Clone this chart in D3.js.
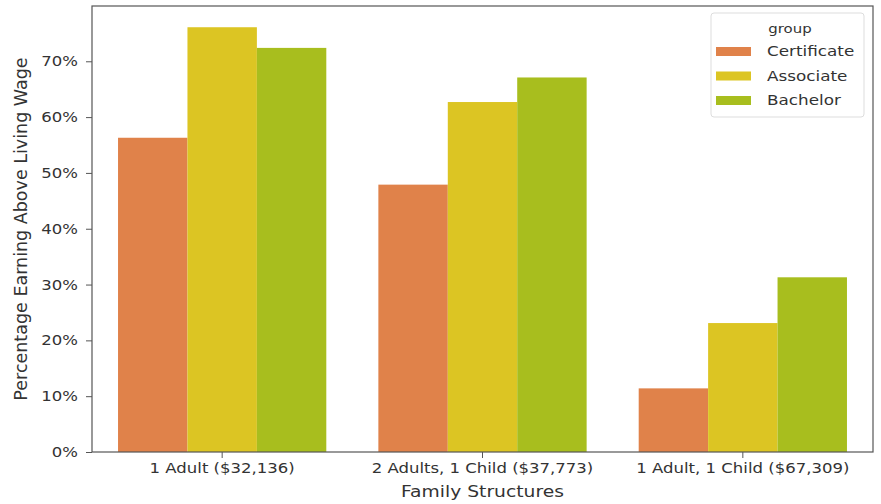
<!DOCTYPE html>
<html><head><meta charset="utf-8">
<script src="https://cdn.jsdelivr.net/npm/d3@7"></script>
<style>body{margin:0;background:#fff}svg{display:block}text{font-family:"DejaVu Sans",sans-serif;fill:#333}</style>
</head><body><div id="chart"></div>
<script>
const categories = ["1 Adult ($32,136)", "2 Adults, 1 Child ($37,773)", "1 Adult, 1 Child ($67,309)"];
const groups = ["Certificate", "Associate", "Bachelor"];
const certificate = [56.3, 47.9, 11.4];
const associate = [76.1, 62.7, 23.1];
const bachelor = [72.4, 67.1, 31.3];
const yTicks = [0, 10, 20, 30, 40, 50, 60, 70];
const colors = ["#e0824a", "#dcc523", "#a8be1e"];
const seriesValues = [certificate, associate, bachelor];

const W = 881, H = 504;
const m = {left: 92, right: 8, top: 6, bottom: 52};
const SX = 1.18;
const svg = d3.select("#chart").append("svg").attr("width", W).attr("height", H);

function stretch(sel, sx) {
  sel.each(function() {
    const t = d3.select(this);
    const xv = +t.attr("x") || 0;
    t.attr("x", xv / sx).attr("transform", (t.attr("transform") || "") + ` scale(${sx},1)`);
  });
}

const x = d3.scaleBand().domain(categories).range([m.left, W - m.right]).paddingInner(0.2).paddingOuter(0.1);
const xs = d3.scaleBand().domain(groups).range([0, x.bandwidth()]);
const yMax = d3.max(seriesValues.flat()) * 1.05;
const y = d3.scaleLinear().domain([0, yMax]).range([H - m.bottom, m.top]);

const g = svg.append("g");
groups.forEach((grp, gi) => {
  g.selectAll(".b" + gi).data(categories).enter().append("rect")
    .attr("x", c => x(c) + xs(grp))
    .attr("width", xs.bandwidth())
    .attr("y", (c, i) => y(seriesValues[gi][i]))
    .attr("height", (c, i) => y(0) - y(seriesValues[gi][i]))
    .attr("fill", colors[gi]);
});

svg.append("rect").attr("x", m.left).attr("y", m.top).attr("width", W - m.right - m.left).attr("height", H - m.bottom - m.top)
  .attr("fill", "none").attr("stroke", "#555").attr("stroke-width", 1.2);

const yAxis = svg.append("g").attr("transform", `translate(${m.left},0)`)
  .call(d3.axisLeft(y).tickValues(yTicks).tickFormat(d => d + "%").tickSize(6).tickPadding(8));
const xAxis = svg.append("g").attr("transform", `translate(0,${H - m.bottom})`)
  .call(d3.axisBottom(x).tickSize(6).tickPadding(5));
[yAxis, xAxis].forEach(a => {
  a.attr("font-size", null).attr("font-family", null);
  a.select(".domain").remove();
  a.selectAll("line").attr("stroke", "#555");
  a.selectAll("text").attr("font-size", 14).attr("fill", "#333");
  stretch(a.selectAll("text"), SX);
});

svg.append("text").attr("transform", `translate(27,${(m.top + H - m.bottom) / 2}) rotate(-90)`)
  .attr("text-anchor", "middle").attr("font-size", 17.5).text("Percentage Earning Above Living Wage");
svg.append("text").attr("transform", `translate(${(m.left + W - m.right) / 2},497) scale(1.17,1)`)
  .attr("text-anchor", "middle").attr("font-size", 16).text("Family Structures");

// legend
const lg = svg.append("g");
lg.append("rect").attr("x", 711).attr("y", 13).attr("width", 153).attr("height", 104).attr("rx", 3)
  .attr("fill", "#fff").attr("fill-opacity", 0.8).attr("stroke", "#ddd");
lg.append("text").attr("transform", "translate(790,33) scale(1.15,1)").attr("text-anchor", "middle").attr("font-size", 13).text("group");
groups.forEach((grp, i) => {
  const yy = 51 + i * 24.5;
  lg.append("rect").attr("x", 716).attr("y", yy - 4).attr("width", 35).attr("height", 9).attr("fill", colors[i]);
  lg.append("text").attr("transform", `translate(767,${yy + 5}) scale(1.2,1)`).attr("font-size", 14).text(grp);
});
</script></body></html>
